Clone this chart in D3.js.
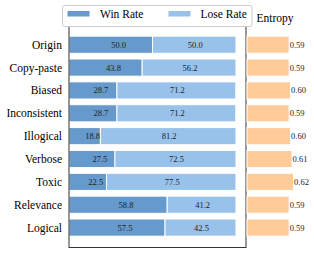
<!DOCTYPE html>
<html>
<head>
<meta charset="utf-8">
<script src="https://cdn.jsdelivr.net/npm/d3@7/dist/d3.min.js"></script>
<style>
  html, body { margin: 0; padding: 0; background: #fff; }
  svg { display: block; }
  text { font-family: "Liberation Serif", "Times New Roman", serif; }
</style>
</head>
<body>
<svg id="chart" width="314" height="253"></svg>
<script>
const categories = ["Origin", "Copy-paste", "Biased", "Inconsistent", "Illogical", "Verbose", "Toxic", "Relevance", "Logical"];
const winRate  = [50.0, 43.8, 28.7, 28.7, 18.8, 27.5, 22.5, 58.8, 57.5];
const loseRate = [50.0, 56.2, 71.2, 71.2, 81.2, 72.5, 77.5, 41.2, 42.5];
const entropy  = [0.59, 0.59, 0.60, 0.59, 0.60, 0.61, 0.62, 0.59, 0.59];
const seriesNames = ["Win Rate", "Lose Rate"];

const colors = { win: "#6699cc", lose: "#99c2eb", ent: "#ffcc99" };
const svg = d3.select("#chart");

const frame = { left: 69, right: 246, top: 26, bottom: 247.5 };

const x = d3.scaleLinear().domain([0, 106]).range([frame.left, frame.right]);
const y = d3.scaleBand().domain(categories).range([33.3, 239]).paddingInner(0.25).paddingOuter(0.125);
const xe = d3.scaleLinear().domain([0.3, 0.62]).range([247, 293.5]);

const rows = categories.map((c, i) => ({ c, win: winRate[i], lose: loseRate[i], ent: entropy[i] }));

// Win bars
svg.append("g").selectAll("rect").data(rows).join("rect")
  .attr("x", d => x(0)).attr("y", d => y(d.c))
  .attr("width", d => x(d.win) - x(0)).attr("height", y.bandwidth())
  .attr("fill", colors.win).attr("stroke", "#fff").attr("stroke-width", 1);

// Lose bars
svg.append("g").selectAll("rect").data(rows).join("rect")
  .attr("x", d => x(d.win)).attr("y", d => y(d.c))
  .attr("width", d => x(d.win + d.lose) - x(d.win)).attr("height", y.bandwidth())
  .attr("fill", colors.lose).attr("stroke", "#fff").attr("stroke-width", 1);

// Win labels
svg.append("g").selectAll("text").data(rows).join("text")
  .attr("x", d => x(d.win / 2) + 0.5).attr("y", d => y(d.c) + y.bandwidth() / 2)
  .attr("dy", "0.35em").attr("text-anchor", "start")
  .attr("font-size", 8.5).attr("fill", "#222")
  .text(d => d.win.toFixed(1));

// Lose labels
svg.append("g").selectAll("text").data(rows).join("text")
  .attr("x", d => x(d.win + d.lose / 2) + 1).attr("y", d => y(d.c) + y.bandwidth() / 2)
  .attr("dy", "0.35em").attr("text-anchor", "middle")
  .attr("font-size", 8.5).attr("fill", "#222")
  .text(d => d.lose.toFixed(1));

// Category labels
svg.append("g").selectAll("text").data(rows).join("text")
  .attr("x", 62).attr("y", d => y(d.c) + y.bandwidth() / 2)
  .attr("dy", "0.35em").attr("text-anchor", "end")
  .attr("font-size", 11.5).attr("fill", "#000")
  .text(d => d.c);

// Frame
svg.append("rect")
  .attr("x", frame.left).attr("y", frame.top)
  .attr("width", frame.right - frame.left).attr("height", frame.bottom - frame.top)
  .attr("fill", "none").attr("stroke", "#333").attr("stroke-width", 1);

// Entropy bars
svg.append("g").selectAll("rect").data(rows).join("rect")
  .attr("x", xe(0.3)).attr("y", d => y(d.c))
  .attr("width", d => xe(d.ent) - xe(0.3)).attr("height", y.bandwidth())
  .attr("fill", colors.ent).attr("stroke", "#fff").attr("stroke-width", 1);

svg.append("g").selectAll("text").data(rows).join("text")
  .attr("x", d => xe(d.ent) + 0.5).attr("y", d => y(d.c) + y.bandwidth() / 2)
  .attr("dy", "0.35em").attr("text-anchor", "start")
  .attr("font-size", 8.5).attr("fill", "#222")
  .text(d => d.ent.toFixed(2));

svg.append("text")
  .attr("x", 256.5).attr("y", 18).attr("dy", "0.35em")
  .attr("font-size", 11.5).attr("fill", "#000")
  .text("Entropy");

// Legend
const lg = svg.append("g");
lg.append("rect")
  .attr("x", 62.5).attr("y", 5.5).attr("width", 189.5).attr("height", 21)
  .attr("rx", 2).attr("fill", "#fff").attr("stroke", "#ccc").attr("stroke-width", 1);
const legendItems = [
  { name: seriesNames[0], color: colors.win, px: 67.5, tx: 100 },
  { name: seriesNames[1], color: colors.lose, px: 168.5, tx: 200.5 }
];
legendItems.forEach(it => {
  lg.append("rect").attr("x", it.px).attr("y", 11).attr("width", 22).attr("height", 5.5).attr("fill", it.color);
  lg.append("text").attr("x", it.tx).attr("y", 14).attr("dy", "0.35em")
    .attr("font-size", 11.5).attr("fill", "#000").text(it.name);
});
</script>
</body>
</html>
